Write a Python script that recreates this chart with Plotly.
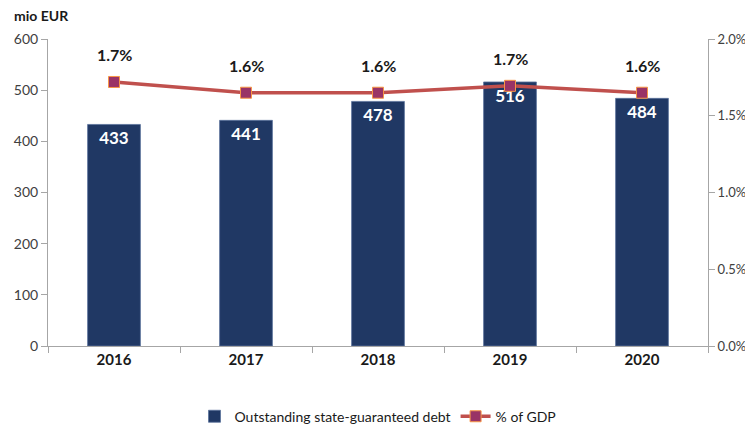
import plotly.graph_objects as go

years = ["2016", "2017", "2018", "2019", "2020"]
debt = [433, 441, 478, 516, 484]
gdp_pct = [1.72, 1.65, 1.65, 1.695, 1.65]
gdp_labels = ["1.7%", "1.6%", "1.6%", "1.7%", "1.6%"]
left_ticks = [0, 100, 200, 300, 400, 500, 600]
right_ticks = [0, 0.5, 1.0, 1.5, 2.0]
right_tick_labels = ["0.0%", "0.5%", "1.0%", "1.5%", "2.0%"]

FONT = "Lato, 'Open Sans', sans-serif"

fig = go.Figure()
fig.add_trace(go.Bar(
    x=years, y=debt, name="Outstanding state-guaranteed debt",
    marker=dict(color="#203864", line=dict(color="#5a729c", width=0.8)),
    text=[str(v) for v in debt], textposition="inside", insidetextanchor="end",
    textfont=dict(color="white", size=17, family=FONT, weight="bold"),
    cliponaxis=False,
))
fig.add_trace(go.Scatter(
    x=years, y=gdp_pct, name="% of GDP", yaxis="y2", mode="lines+markers",
    line=dict(color="#C0504D", width=3.5),
    marker=dict(symbol="square", size=11, color="#993366",
                line=dict(color="#F79646", width=1)),
))
for i, (y, t) in enumerate(zip(gdp_pct, gdp_labels)):
    fig.add_annotation(x=i, y=y, xref="x", yref="y2", text="<b>" + t + "</b>", showarrow=False,
                       yshift=27, font=dict(size=16, color="#1a1a1a", family=FONT))

fig.add_annotation(xref="paper", yref="paper", x=-0.054, y=1.078, xanchor="left", yanchor="middle",
                   text="<b>mio EUR</b>", showarrow=False,
                   font=dict(size=14, color="#1a1a1a", family=FONT))

fig.update_layout(
    width=745, height=417,
    margin=dict(l=40, r=45, t=31, b=79, autoexpand=False),
    paper_bgcolor="white", plot_bgcolor="white",
    font=dict(family=FONT, color="#404040"),
    bargap=0.6,
    showlegend=True,
    legend=dict(orientation="h", x=0.5, xanchor="center", yref="container", y=0.02, yanchor="middle",
                font=dict(size=14, color="#1a1a1a"), traceorder="normal"),
    xaxis=dict(type="category", range=[-0.5, 4.5], showline=True, linecolor="#A6A6A6", linewidth=1,
               ticks="outside", tickson="boundaries", tickcolor="#A6A6A6", ticklen=6,
               tickfont=dict(size=15, color="#1a1a1a", family=FONT, weight="bold"),
               showgrid=False),
    yaxis=dict(range=[0, 600], tickvals=left_ticks, showline=True, linecolor="#A6A6A6",
               ticks="outside", tickcolor="#A6A6A6", ticklen=6, showgrid=False,
               zeroline=False, tickfont=dict(size=14, color="#404040")),
    yaxis2=dict(range=[0, 2.0], tickvals=right_ticks, ticktext=right_tick_labels,
                overlaying="y", side="right", showline=True, linecolor="#A6A6A6",
                ticks="outside", tickcolor="#A6A6A6", ticklen=6, showgrid=False,
                zeroline=False, tickfont=dict(size=13, color="#404040")),
)

fig.write_html("out.html")
